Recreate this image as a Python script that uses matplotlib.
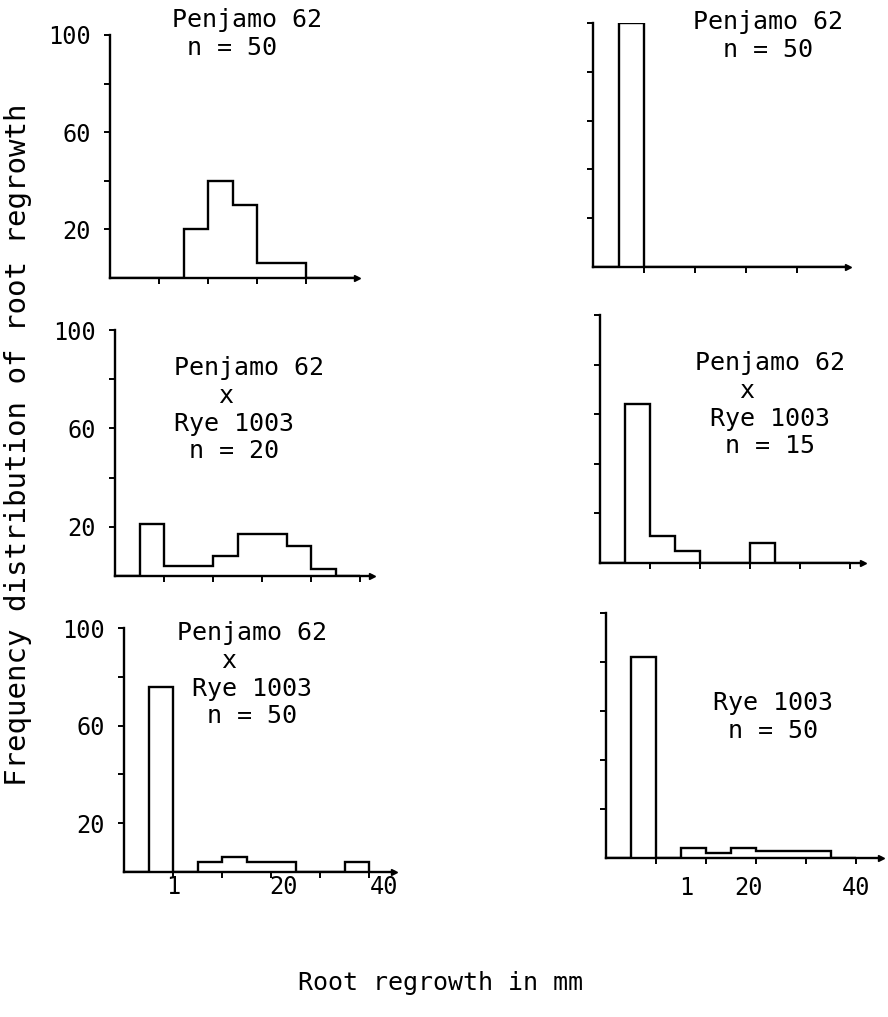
import matplotlib.pyplot as plt
import numpy as np

W, H = 888, 1017
FONT = "DejaVu Sans Mono"
plt.rcParams["font.family"] = FONT

# percent of plants per root regrowth class (one class = one bin)
penjamo_top = [0, 0, 0, 20, 40, 30, 6, 6, 0, 0]
cross_20 = [0, 21, 4, 4, 8, 17, 17, 12, 3, 0]
cross_50 = [0, 76, 0, 4, 6, 4, 4, 0, 0, 4]
penjamo_right = [0, 100, 0, 0, 0, 0, 0, 0, 0, 0]
cross_15 = [0, 64, 11, 5, 0, 0, 8, 0, 0, 0]
rye_50 = [0, 82, 0, 4, 2, 4, 3, 3, 3, 0]

y_ticks = [20, 40, 60, 80, 100]
y_labels = ["20", "", "60", "", "100"]
x_ticks = [2, 4, 6, 8, 10]
x_labels = ["1", "20", "40"]

# left, top, base, bin width (all px), x extent in bins, data, caption,
# caption left/top px, y labels?, x label positions
panels = [
    (110, 35, 278, 24.5, 10.1, penjamo_top,
     "Penjamo 62\n n = 50", (172, 8), True, None),
    (115, 330, 576, 24.5, 10.5, cross_20,
     "Penjamo 62\n   x\nRye 1003\n n = 20", (174, 356), True, None),
    (124, 628, 872, 24.5, 11.0, cross_50,
     "Penjamo 62\n   x\n Rye 1003\n  n = 50", (177, 621), True, [2, 6.5, 10.6]),
    (593, 23, 267, 25.5, 10.0, penjamo_right,
     "Penjamo 62\n  n = 50", (693, 10), False, None),
    (600, 315, 563, 25.0, 10.5, cross_15,
     "Penjamo 62\n   x\n Rye 1003\n  n = 15", (695, 351), False, None),
    (606, 613, 858, 25.0, 11.0, rye_50,
     "Rye 1003\n n = 50", (713, 691), False, [3.2, 5.7, 10.0]),
]

fig = plt.figure(figsize=(W / 100, H / 100), dpi=100)

for left, top, base, bw, xmax, vals, caption, cpos, ylab, xpos in panels:
    ax = fig.add_axes([left / W, 1 - base / H, xmax * bw / W, (base - top) / H])
    edges = np.arange(len(vals) + 1)
    ax.stairs(vals, edges, baseline=0, fill=False, color="black", linewidth=1.7)
    ax.set_xlim(0, xmax)
    ax.set_ylim(0, 100)
    for side in ["top", "right"]:
        ax.spines[side].set_visible(False)
    for side in ["left", "bottom"]:
        ax.spines[side].set_linewidth(1.7)
    ax.plot(1, 0, ">", color="black", markersize=4,
            transform=ax.transAxes, clip_on=False)

    ax.set_yticks(y_ticks)
    ax.set_yticklabels(y_labels if ylab else [])
    ax.set_xticks([t for t in x_ticks if t < xmax - 0.3])
    ax.set_xticklabels([])
    ax.tick_params(which="major", direction="out", length=4, width=1.4,
                   labelsize=17, pad=10)
    if xpos is not None:
        ax.xaxis.remove_overlapping_locs = False
        ax.set_xticks(xpos, minor=True)
        ax.set_xticklabels(x_labels, minor=True, fontsize=17)
        ax.tick_params(axis="x", which="minor", length=0,
                       pad=2 if base > 865 else 13)

    fig.text(cpos[0] / W, 1 - cpos[1] / H, caption, fontsize=18,
             ha="left", va="top", linespacing=1.2)

fig.text(18 / W, 1 - 445 / H, "Frequency distribution of root regrowth",
         rotation=90, ha="center", va="center", fontsize=21)
fig.text(440 / W, 1 - 983 / H, "Root regrowth in mm",
         ha="center", va="center", fontsize=18)

fig.savefig("out.png", dpi=100, facecolor="white")
